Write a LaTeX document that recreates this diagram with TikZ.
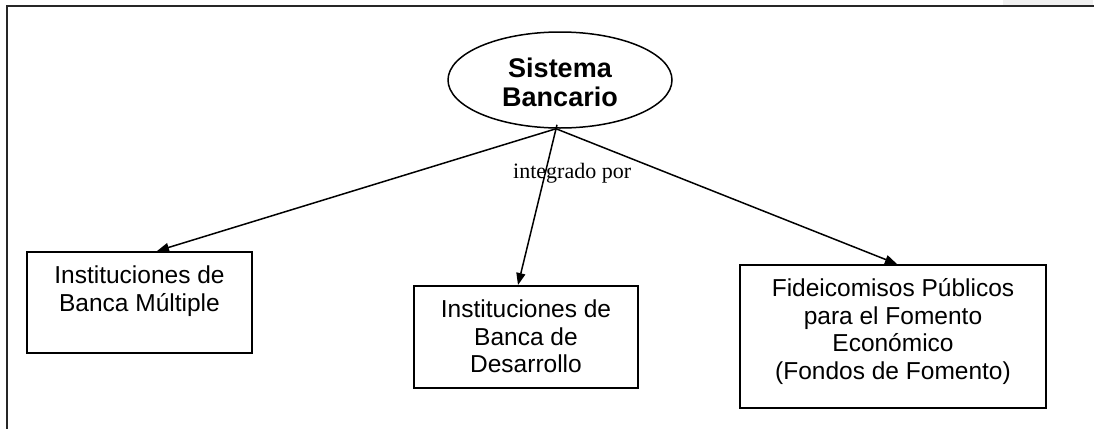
\documentclass[tikz,border=0pt]{standalone}
\usepackage{fontspec}
\setmainfont{Liberation Serif}
\setsansfont{Liberation Sans}
\usetikzlibrary{shapes.geometric,arrows.meta}
\tikzset{
  entbox/.style={draw=black, line width=1.6pt, rectangle, align=center,
    anchor=north, inner sep=0pt,
    font=\sffamily\fontsize{24.5}{27.5}\selectfont},
  link/.style={black, line width=1.5pt, -{Triangle[length=12pt,width=9pt]}}
}
\begin{document}
\begin{tikzpicture}[x=1pt,y=-1pt]
    \useasboundingbox (0,0) rectangle (1094,429);
    % Draw page frame
    \fill[black!6] (1003,0) rectangle (1093,5);
    \draw[black!85, line width=2pt] (1094,6) -- (7,6) -- (7,429);
    % Draw root ellipse
    \node[ellipse, draw, line width=1.5pt, minimum width=224pt, minimum height=96pt,
      inner sep=0pt, align=center, text height=52pt, text depth=0pt,
      font=\sffamily\bfseries\fontsize{27}{29}\selectfont] (sb) at (560,80) {Sistema\\Bancario};
    % Draw the three boxes
    \node[entbox, minimum width=225pt, text height=59.5pt, text depth=41.5pt] (bm) at (139.5,251) {Instituciones de\\Banca Múltiple};
    \node[entbox, minimum width=224pt, text height=87pt, text depth=15pt] (bd) at (526,285) {Instituciones de\\Banca de\\Desarrollo};
    \node[entbox, minimum width=306pt, text height=114.5pt, text depth=28.5pt] (fp) at (893,264) {Fideicomisos Públicos\\para el Fomento\\Económico\\(Fondos de Fomento)};
    % Links from the ellipse
    \coordinate (hub) at ([xshift=-4pt]sb.south);
    \draw[link] (hub) -- ([xshift=17.5pt]bm.north);
    \draw[link] ([xshift=-3pt,yshift=4pt]sb.south) -- ([xshift=-8pt]bd.north);
    \draw[link] (hub) -- ([xshift=4pt]fp.north);
    \node[font=\fontsize{22}{24}\selectfont, anchor=base west, inner sep=0pt] (lbl) at (513,178) {integrado por};
\end{tikzpicture}
\end{document}
